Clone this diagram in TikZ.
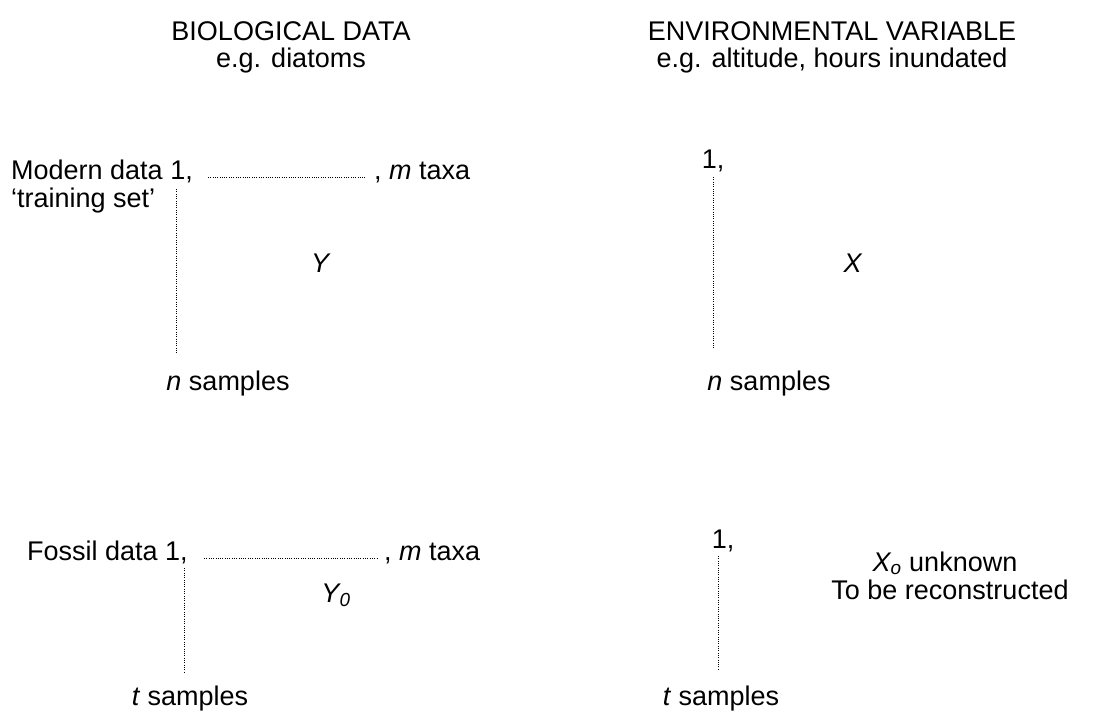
\documentclass[tikz,border=0pt]{standalone}
\usepackage{fontspec}
\setmainfont{Liberation Sans}
\begin{document}
\begin{tikzpicture}[x=1pt,y=-1pt,
  font=\fontsize{27}{30}\selectfont,
  txt/.style={inner sep=0pt},
  dots/.style={line width=0.9pt, dash pattern=on 0.9pt off 1.4pt}]
\useasboundingbox (0,0) rectangle (1108,713);
% titles
\node[txt, anchor=base] (bio1) at (291,40) {BIOLOGICAL DATA};
\node[txt, anchor=base] (bio2) at (291,67) {e.g. diatoms};
\node[txt, anchor=base] (env1) at (832,40) {ENVIRONMENTAL VARIABLE};
\node[txt, anchor=base] (env2) at (832,67) {e.g. altitude, hours inundated};
% modern biological
\node[txt, anchor=base west] (mod) at (11,179) {Modern data 1,};
\node[txt, anchor=base west] (mtaxa) at (374,179) {, \textit{m} taxa};
\node[txt, anchor=base west] (train) at (11,207) {`training set'};
\coordinate (mh1) at (208,177);
\coordinate (mh2) at (365,177);
\draw[dots] (mh1) -- (mh2);
\coordinate (mv1) at (176,189);
\coordinate (mv2) at (176,354);
\draw[dots] (mv1) -- (mv2);
\node[txt, anchor=base] (Y) at (321,272) {\textit{Y}};
\node[txt, anchor=base] (nsamp1) at (228,390) {\textit{n} samples};
% modern environmental
\node[txt, anchor=base] (one1) at (713,168) {1,};
\coordinate (ev1) at (713,177);
\coordinate (ev2) at (713,348);
\draw[dots] (ev1) -- (ev2);
\node[txt, anchor=base] (X) at (853,272) {\textit{X}};
\node[txt, anchor=base] (nsamp2) at (769,390) {\textit{n} samples};
% fossil biological
\node[txt, anchor=base west] (fos) at (27,560) {Fossil data 1,};
\node[txt, anchor=base west] (ftaxa) at (384,560) {, \textit{m} taxa};
\coordinate (fh1) at (204,558);
\coordinate (fh2) at (378,558);
\draw[dots] (fh1) -- (fh2);
\coordinate (fv1) at (184,568);
\coordinate (fv2) at (184,673);
\draw[dots] (fv1) -- (fv2);
\node[txt, anchor=base] (Y0) at (336,602) {\textit{Y\textsubscript{0}}};
\node[txt, anchor=base] (tsamp1) at (190,705) {\textit{t} samples};
% fossil environmental
\node[txt, anchor=base] (one2) at (723,548) {1,};
\coordinate (fe1) at (718,556);
\coordinate (fe2) at (718,670);
\draw[dots] (fe1) -- (fe2);
\node[txt, anchor=base] (xo) at (945,571) {\textit{X\textsubscript{o}} unknown};
\node[txt, anchor=base] (rec) at (950,599) {To be reconstructed};
\node[txt, anchor=base] (tsamp2) at (721,705) {\textit{t} samples};
\end{tikzpicture}
\end{document}
